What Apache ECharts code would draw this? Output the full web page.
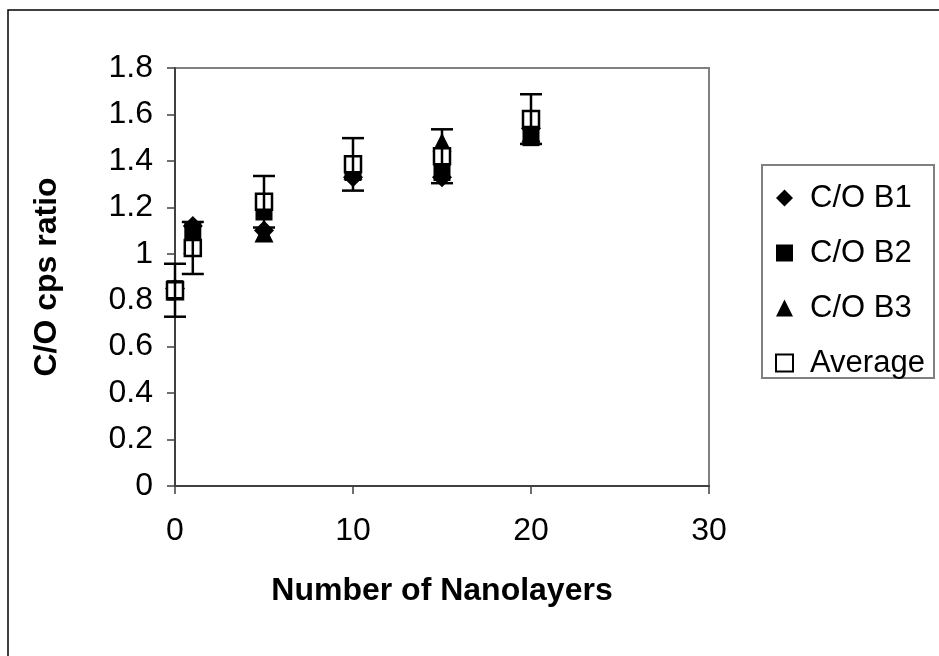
<!DOCTYPE html>
<html>
<head>
<meta charset="utf-8">
<script src="https://cdn.jsdelivr.net/npm/echarts@6/dist/echarts.min.js"></script>
<style>
  html, body { margin: 0; padding: 0; background: #fff; }
  #chart { width: 939px; height: 656px; }
</style>
</head>
<body>
<div id="chart"></div>
<script>
// Number of nanolayers deposited
const layers = [0, 1, 5, 10, 15, 20];
// C/O counts-per-second ratio for each batch
const coB1 = [0.85, 1.12, 1.10, 1.33, 1.33, 1.54];
const coB2 = [0.85, 1.10, 1.18, 1.35, 1.35, 1.50];
const coB3 = [0.84, 1.04, 1.09, 1.36, 1.48, 1.52];
const coAvg = [0.843, 1.025, 1.224, 1.385, 1.42, 1.58];
// Error bar half-height on the average
const coErr = [0.114, 0.112, 0.111, 0.113, 0.116, 0.107];

const xTicks = { min: 0, max: 30, interval: 10 };
const yTicks = { min: 0, max: 1.8, interval: 0.2 };

const FONT = '"Liberation Sans", Arial, sans-serif';

function pairs(ys) {
  return layers.map((x, i) => [x, ys[i]]);
}

const chart = echarts.init(document.getElementById('chart'), null, { renderer: 'canvas' });

chart.setOption({
  backgroundColor: '#ffffff',
  animation: false,
  grid: {
    left: 175, right: 230, top: 68, bottom: 170,
    show: true, borderColor: '#808080', borderWidth: 2, backgroundColor: '#ffffff'
  },
  xAxis: {
    type: 'value',
    min: xTicks.min, max: xTicks.max, interval: xTicks.interval,
    name: 'Number of Nanolayers',
    nameLocation: 'middle',
    nameGap: 89,
    nameTextStyle: { fontFamily: FONT, fontSize: 32, fontWeight: 'bold', color: '#000' },
    axisLine: { show: true, onZero: false, lineStyle: { color: '#404040', width: 2 } },
    axisTick: { show: true, length: 8, lineStyle: { color: '#404040', width: 1.5 } },
    axisLabel: { fontFamily: FONT, fontSize: 32, color: '#000', margin: 29 },
    splitLine: { show: false }
  },
  yAxis: {
    type: 'value',
    min: yTicks.min, max: yTicks.max, interval: yTicks.interval,
    name: 'C/O cps ratio',
    nameLocation: 'middle',
    nameGap: 112,
    nameTextStyle: { fontFamily: FONT, fontSize: 32, fontWeight: 'bold', color: '#000' },
    axisLine: { show: true, onZero: false, lineStyle: { color: '#404040', width: 2 } },
    axisTick: { show: true, length: 8, lineStyle: { color: '#404040', width: 1.5 } },
    axisLabel: { fontFamily: FONT, fontSize: 32, color: '#000', margin: 22 },
    splitLine: { show: false }
  },
  legend: {
    orient: 'vertical',
    left: 770,
    top: 177,
    itemWidth: 17,
    itemHeight: 17,
    itemGap: 23,
    selectedMode: false,
    textStyle: { fontFamily: FONT, fontSize: 31, color: '#000', lineHeight: 32, padding: [0, 0, 0, 12] },
    data: [
      { name: 'C/O B1', icon: 'diamond' },
      { name: 'C/O B2', icon: 'rect' },
      { name: 'C/O B3', icon: 'triangle' },
      { name: 'Average', icon: 'rect', itemStyle: { color: '#fff', borderColor: '#000', borderWidth: 2 } }
    ]
  },
  graphic: [
    {
      type: 'polyline', silent: true, z: -1,
      shape: { points: [[8, 660], [8, 10], [945, 10]] },
      style: { fill: 'none', stroke: '#000', lineWidth: 1.5 }
    },
    {
      type: 'rect', silent: true,
      shape: { x: 762, y: 165, width: 172, height: 213 },
      style: { fill: 'none', stroke: '#808080', lineWidth: 2 }
    }
  ],
  series: [
    {
      name: 'C/O B1', type: 'scatter', symbol: 'diamond', symbolSize: 20,
      itemStyle: { color: '#000', opacity: 1 }, data: pairs(coB1), z: 2
    },
    {
      name: 'C/O B2', type: 'scatter', symbol: 'rect', symbolSize: 17,
      itemStyle: { color: '#000', opacity: 1 }, data: pairs(coB2), z: 3
    },
    {
      name: 'C/O B3', type: 'scatter', symbol: 'triangle', symbolSize: 19,
      itemStyle: { color: '#000', opacity: 1 }, data: pairs(coB3), z: 4
    },
    {
      name: 'Average', type: 'scatter', symbol: 'rect', symbolSize: 16,
      itemStyle: { color: '#fff', borderColor: '#000', borderWidth: 2.5, opacity: 1 },
      data: pairs(coAvg), z: 5
    },
    {
      name: 'errors', type: 'custom', z: 6,
      data: layers.map((x, i) => [x, coAvg[i] - coErr[i], coAvg[i] + coErr[i]]),
      renderItem: function (params, api) {
        const lo = api.coord([api.value(0), api.value(1)]);
        const hi = api.coord([api.value(0), api.value(2)]);
        const cap = 11;
        const st = { stroke: '#000', lineWidth: 2.5 };
        return {
          type: 'group',
          children: [
            { type: 'line', shape: { x1: lo[0], y1: lo[1], x2: hi[0], y2: hi[1] }, style: st },
            { type: 'line', shape: { x1: lo[0] - cap, y1: lo[1], x2: lo[0] + cap, y2: lo[1] }, style: st },
            { type: 'line', shape: { x1: hi[0] - cap, y1: hi[1], x2: hi[0] + cap, y2: hi[1] }, style: st }
          ]
        };
      }
    }
  ]
});
</script>
</body>
</html>
